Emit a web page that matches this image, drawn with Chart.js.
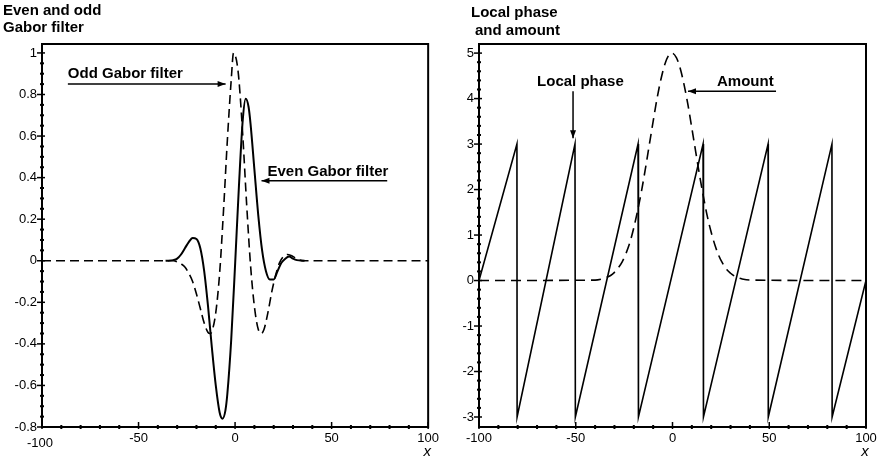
<!DOCTYPE html>
<html><head><meta charset="utf-8">
<script src="https://cdn.jsdelivr.net/npm/chart.js@4.4.1/dist/chart.umd.min.js"></script>
<style>
html,body{margin:0;padding:0;background:#fff;}
#wrap{position:relative;width:886px;height:460px;background:#fff;}
canvas{position:absolute;top:0;}
</style></head><body>
<div id="wrap">
<canvas id="left" width="443" height="460" style="left:0"></canvas>
<canvas id="right" width="443" height="460" style="left:443px"></canvas>
</div>
<script>
// ---------- data ----------
const xTickLabels = [-100, -50, 0, 50, 100];
const leftYTickLabels = [-0.8, -0.6, -0.4, -0.2, 0, 0.2, 0.4, 0.6, 0.8, 1];
const rightYTickLabels = [-3, -2, -1, 0, 1, 2, 3, 4, 5];

// Even Gabor filter (solid)
const evenX = [-36,-32,-30,-28,-26,-24,-22,-20,-18,-16,-14,-12,-10,-8,-6.5,-5,-4,-2,0,2,4,5.5,7,8,10,12,14,16,18,20,22,24,26,28,30,32,36];
const evenY = [0,0.003,0.01,0.03,0.06,0.09,0.11,0.105,0.06,-0.05,-0.22,-0.42,-0.6,-0.73,-0.76,-0.72,-0.64,-0.38,-0.02,0.36,0.68,0.78,0.74,0.66,0.44,0.22,0.05,-0.05,-0.09,-0.09,-0.05,-0.01,0.01,0.02,0.01,0.003,0];

// Odd Gabor filter (dashed)
const oddX = [-100,-40,-32,-30,-28,-26,-24,-22,-20,-18,-16,-14,-13,-12,-10,-8,-6,-4,-2,-0.8,0,1,2,4,6,8,10,12,13.7,15,17,19,21,23,25,27,29,31,33,36,40,100];
const oddY = [0,0,0,-0.005,-0.015,-0.03,-0.06,-0.1,-0.16,-0.23,-0.3,-0.345,-0.35,-0.34,-0.25,-0.06,0.24,0.58,0.87,1.0,0.99,0.95,0.87,0.6,0.27,-0.02,-0.22,-0.33,-0.35,-0.33,-0.25,-0.15,-0.07,-0.01,0.02,0.03,0.025,0.015,0.005,0,0,0];

// Amount (dashed)
const amountX = [-100,-40,-36,-34,-32,-30,-28,-26,-24,-22,-20,-18,-16,-14,-12,-10,-8,-6,-4,-2,-0.3,2,4,6,8,10,12,14,16,18,20,22,24,26,28,30,32,34,36,40,100];
const amountY = [0,0.01,0.04,0.07,0.11,0.18,0.28,0.41,0.6,0.84,1.16,1.54,1.97,2.46,2.98,3.5,4.0,4.42,4.75,4.95,5.0,4.9,4.66,4.3,3.86,3.35,2.83,2.31,1.84,1.41,1.06,0.77,0.54,0.37,0.24,0.16,0.1,0.06,0.035,0.01,0];

// Local phase (solid sawtooth)
const phaseX = [-100,-80.4,-80.3,-50.4,-50.2,-17.8,-17.6,15.8,16.0,49.4,49.5,82.4,82.5,100];
const phaseY = [0,3,-3,3,-3,3,-3,3,-3,3,-3,3,-3,0];

// ---------- helpers ----------
const FONT = '"Liberation Sans", Arial, Helvetica, sans-serif';
const pts = (xs, ys) => xs.map((x, i) => ({x, y: ys[i]}));

function minorValues(majors, sub) {
  const out = [];
  for (let i = 0; i < majors.length - 1; i++) {
    const step = (majors[i + 1] - majors[i]) / sub;
    for (let k = 1; k < sub; k++) out.push(majors[i] + k * step);
  }
  return out;
}

function arrow(ctx, x1, y1, x2, y2) {
  ctx.beginPath(); ctx.moveTo(x1, y1); ctx.lineTo(x2, y2); ctx.stroke();
  const a = Math.atan2(y2 - y1, x2 - x1), L = 8, W = 3;
  ctx.beginPath();
  ctx.moveTo(x2, y2);
  ctx.lineTo(x2 - L * Math.cos(a) + W * Math.sin(a), y2 - L * Math.sin(a) - W * Math.cos(a));
  ctx.lineTo(x2 - L * Math.cos(a) - W * Math.sin(a), y2 - L * Math.sin(a) + W * Math.cos(a));
  ctx.closePath(); ctx.fill();
}

const decor = {
  id: 'decor',
  afterDraw(chart, args, o) {
    const ctx = chart.ctx, a = chart.chartArea, xs = chart.scales.x, ys = chart.scales.y;
    ctx.save();
    ctx.strokeStyle = '#000'; ctx.fillStyle = '#000';
    // frame
    ctx.lineWidth = 2;
    ctx.strokeRect(a.left, a.top, a.right - a.left, a.bottom - a.top);
    // tick marks
    ctx.lineWidth = 1.5;
    xTickLabels.forEach(v => { const p = xs.getPixelForValue(v); ctx.beginPath(); ctx.moveTo(p, a.bottom - 5); ctx.lineTo(p, a.bottom + 2); ctx.stroke(); });
    o.yTicks.forEach(v => { const p = ys.getPixelForValue(v); ctx.beginPath(); ctx.moveTo(a.left - 5, p); ctx.lineTo(a.left + 3, p); ctx.stroke(); });
    ctx.lineWidth = 2;
    minorValues(xTickLabels, 5).forEach(v => { const p = xs.getPixelForValue(v); ctx.beginPath(); ctx.moveTo(p, a.bottom - 2); ctx.lineTo(p, a.bottom + 2); ctx.stroke(); });
    minorValues(o.yTicks, o.yMinor).forEach(v => { const p = ys.getPixelForValue(v); ctx.beginPath(); ctx.moveTo(a.left - 2, p); ctx.lineTo(a.left + 2, p); ctx.stroke(); });
    // titles
    ctx.font = 'bold 15px ' + FONT;
    ctx.textBaseline = 'alphabetic';
    o.title.forEach(t => { ctx.textAlign = 'left'; ctx.fillText(t.text, a.left + t.dx, t.base); });
    // lower -100 label
    if (o.lowFirst) {
      ctx.font = '13px ' + FONT; ctx.textAlign = 'center'; ctx.textBaseline = 'top';
      ctx.fillText(String(xTickLabels[0]), xs.getPixelForValue(xTickLabels[0]) - 2, a.bottom + 10);
    }
    // x axis name
    ctx.font = 'italic 15px ' + FONT; ctx.textAlign = 'center'; ctx.textBaseline = 'middle';
    ctx.fillText('x', xs.getPixelForValue(100) - 1, a.bottom + 25);
    // annotations
    ctx.lineWidth = 1.5;
    o.notes.forEach(n => {
      if (n.type === 'text') {
        ctx.font = 'bold 15px ' + FONT; ctx.textAlign = n.align || 'left'; ctx.textBaseline = 'middle';
        ctx.fillText(n.text, xs.getPixelForValue(n.x), ys.getPixelForValue(n.y));
      } else {
        arrow(ctx, xs.getPixelForValue(n.x1), ys.getPixelForValue(n.y1), xs.getPixelForValue(n.x2), ys.getPixelForValue(n.y2));
      }
    });
    ctx.restore();
  }
};

function makeChart(id, datasets, yMin, yMax, yTicks, yMinor, padRight, yWidth, labelPad, decorOpts, hideFirstX) {
  return new Chart(document.getElementById(id), {
    type: 'scatter',
    data: { datasets },
    options: {
      responsive: false, animation: false, devicePixelRatio: 1, events: [],
      layout: { padding: { top: 44, right: padRight, left: 0, bottom: 0 } },
      plugins: { legend: { display: false }, tooltip: { enabled: false }, decor: decorOpts },
      elements: { point: { radius: 0 } },
      scales: {
        x: {
          type: 'linear', min: -100, max: 100,
          afterBuildTicks: s => { s.ticks = xTickLabels.map(v => ({ value: v })); },
          afterFit: s => { s.height = 33; },
          grid: { display: false, drawTicks: false }, border: { display: false },
          ticks: { color: '#000', font: { family: FONT, size: 13 }, padding: 4, maxRotation: 0, autoSkip: false,
                   callback: v => (hideFirstX && v === xTickLabels[0]) ? '' : String(v) }
        },
        y: {
          type: 'linear', min: yMin, max: yMax,
          afterBuildTicks: s => { s.ticks = yTicks.map(v => ({ value: v })); },
          afterFit: s => { s.width = yWidth; },
          grid: { display: false, drawTicks: false }, border: { display: false },
          ticks: { color: '#000', font: { family: FONT, size: 13 }, padding: labelPad, autoSkip: false,
                   callback: v => String(v) }
        }
      }
    },
    plugins: [decor]
  });
}

makeChart('left', [
  { data: pts(oddX, oddY), showLine: true, borderColor: '#000', borderWidth: 1.6, borderDash: [9, 5], cubicInterpolationMode: 'monotone', pointRadius: 0 },
  { data: pts(evenX, evenY), showLine: true, borderColor: '#000', borderWidth: 2, cubicInterpolationMode: 'monotone', pointRadius: 0 }
], -0.8, 1.043, leftYTickLabels, 4, 14, 42, 5, {
  yTicks: leftYTickLabels, yMinor: 4, lowFirst: true,
  title: [{ text: 'Even and odd', dx: -39, base: 15 }, { text: 'Gabor filter', dx: -39, base: 32 }],
  notes: [
    { type: 'text', text: 'Odd Gabor filter', x: -86.6, y: 0.9 },
    { type: 'arrow', x1: -86.6, y1: 0.85, x2: -4.9, y2: 0.85 },
    { type: 'text', text: 'Even Gabor filter', x: 16.8, y: 0.43 },
    { type: 'arrow', x1: 78.8, y1: 0.385, x2: 13.7, y2: 0.385 }
  ]
}, true);

makeChart('right', [
  { data: pts(amountX, amountY), showLine: true, borderColor: '#000', borderWidth: 1.6, borderDash: [10, 6], cubicInterpolationMode: 'monotone', pointRadius: 0 },
  { data: pts(phaseX, phaseY), showLine: true, borderColor: '#000', borderWidth: 1.6, tension: 0, pointRadius: 0 }
], -3.22, 5.2, rightYTickLabels, 5, 20, 36, 5, {
  yTicks: rightYTickLabels, yMinor: 5, lowFirst: false,
  title: [{ text: 'Local phase', dx: -8, base: 17 }, { text: 'and amount', dx: -4, base: 35 }],
  notes: [
    { type: 'text', text: 'Local phase', x: -70, y: 4.36 },
    { type: 'arrow', x1: -51.4, y1: 4.16, x2: -51.4, y2: 3.13 },
    { type: 'text', text: 'Amount', x: 23, y: 4.36 },
    { type: 'arrow', x1: 53.5, y1: 4.16, x2: 8, y2: 4.16 }
  ]
}, false);
</script>
</body></html>
